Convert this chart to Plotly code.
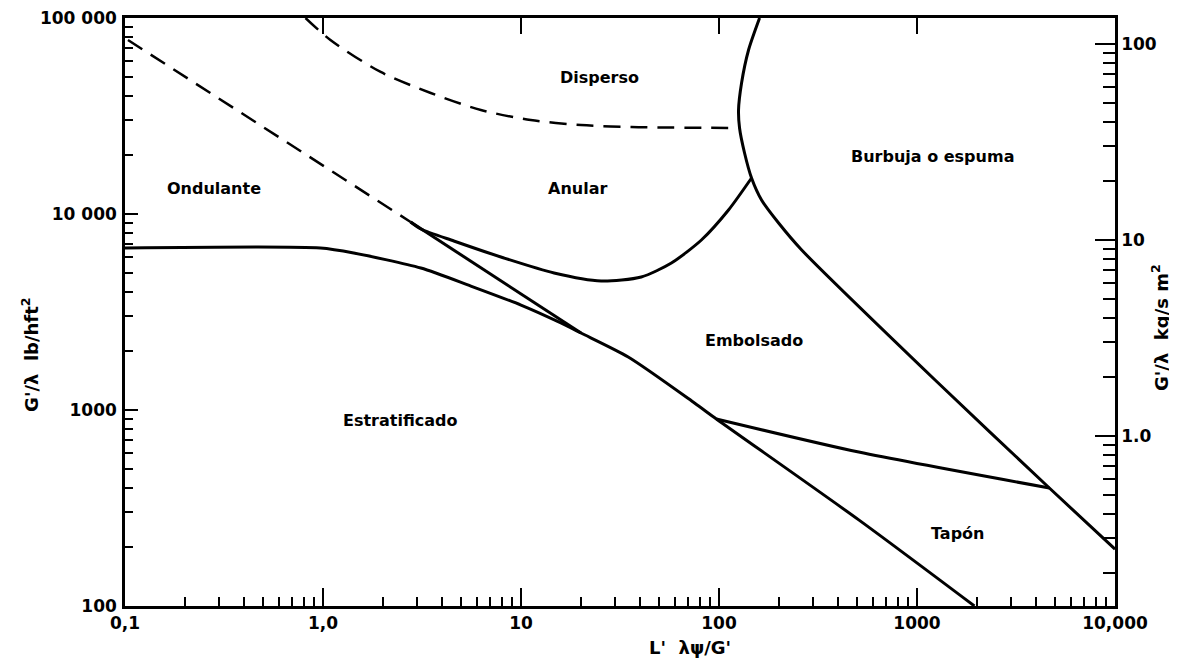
import math
import plotly.graph_objects as go

# ---- boundary curves (x = L' λψ/G', y = G'/λ in lb/h ft²) ----
strat_x = [0.1, 0.97, 1.43, 3.12, 5.58, 10.0, 15.9, 20.1, 34.8, 75.2, 97, 508, 1950]
strat_y = [6700, 6700, 6320, 5300, 4290, 3430, 2780, 2470, 1864, 1086, 900, 275, 100]

wavy_dash_x = [0.1035, 2.77]
wavy_dash_y = [77240, 9104]

wavy_solid_x = [2.77, 20.1]
wavy_solid_y = [9104, 2470]

annular_x = [2.77, 3.12, 4.58, 8.20, 14.69, 25.4, 40.5, 57.5, 81.5, 111.7, 146]
annular_y = [9104, 8385, 7282, 5964, 5000, 4550, 4771, 5623, 7367, 10482, 15265]

bubble_x = [160.3, 141, 130, 125.5, 127, 134.6, 146, 164, 200, 261.6, 1234, 4661, 10000]
bubble_y = [100000, 68680, 46600, 33930, 27470, 20480, 15265, 11788, 8995, 6551, 1422, 400, 195]

slug_plug_x = [97, 508, 4661]
slug_plug_y = [900, 610, 400]

dispersed_x = [0.816, 1.09, 1.955, 3.50, 6.27, 11.2, 20.1, 36.1, 125.5]
dispersed_y = [100000, 77240, 53040, 41430, 33930, 30170, 28440, 27790, 27470]

# ---- region labels ----
label_text = ["Disperso", "Ondulante", "Anular", "Burbuja o espuma",
              "Embolsado", "Estratificado", "Tapón"]
label_x = [24.8, 0.2825, 19.4, 1191, 149.5, 2.47, 1594]
label_y = [49430, 13570, 13570, 19540, 2275, 879, 235.6]

# ---- axes ticks ----
x_tickvals = [0.1, 1, 10, 100, 1000, 10000]
x_ticktext = ["0,1", "1,0", "10", "100", "1000", "10,000"]
y_tickvals = [100, 1000, 10000, 100000]
y_ticktext = ["100", "1000", "10 000", "100 000"]
y2_tickvals = [1, 10, 100]
y2_ticktext = ["1.0", "10", "100"]
CONV = 737.3  # lb/h ft² per kg/s m²

x_minor = [m * d for d in [0.1, 1, 10, 100, 1000] for m in range(2, 10)]
y_minor = [m * d for d in [100, 1000, 10000] for m in range(2, 10)]
y2_minor = [m * d for d in [0.1, 1, 10, 100] for m in range(2, 10)]

XR = [math.log10(0.1), math.log10(10000)]
YR = [math.log10(100), math.log10(100000)]
Y2R = [math.log10(100 / CONV), math.log10(100000 / CONV)]

fig = go.Figure()
solid = dict(color="black", width=3)
solid_s = dict(color="black", width=3, shape="spline", smoothing=0.7)
dashed = dict(color="black", width=2.5, dash="17px,10px")
dashed_s = dict(color="black", width=2.5, dash="17px,10px", shape="spline", smoothing=0.8)

fig.add_trace(go.Scatter(x=strat_x, y=strat_y, mode="lines", line=solid_s))
fig.add_trace(go.Scatter(x=wavy_dash_x, y=wavy_dash_y, mode="lines", line=dashed))
fig.add_trace(go.Scatter(x=wavy_solid_x, y=wavy_solid_y, mode="lines", line=solid))
fig.add_trace(go.Scatter(x=annular_x, y=annular_y, mode="lines", line=solid_s))
fig.add_trace(go.Scatter(x=bubble_x, y=bubble_y, mode="lines", line=solid_s))
fig.add_trace(go.Scatter(x=slug_plug_x, y=slug_plug_y, mode="lines", line=solid_s))
fig.add_trace(go.Scatter(x=dispersed_x, y=dispersed_y, mode="lines", line=dashed_s))

# invisible traces to activate secondary axes
fig.add_trace(go.Scatter(x=[1], y=[1000], xaxis="x2", yaxis="y", mode="markers",
                         marker=dict(opacity=0), hoverinfo="skip"))
fig.add_trace(go.Scatter(x=[1], y=[10], xaxis="x", yaxis="y2", mode="markers",
                         marker=dict(opacity=0), hoverinfo="skip"))

tickfont = dict(family="DejaVu Sans", size=17, color="black", weight="bold")
labfont = dict(family="DejaVu Sans", size=16, color="black", weight="bold")

for t, x, y in zip(label_text, label_x, label_y):
    fig.add_annotation(x=math.log10(x), y=math.log10(y), text=t, showarrow=False,
                       xanchor="center", yanchor="middle", font=labfont)

fig.add_annotation(xref="paper", yref="paper", x=0.571, y=-0.0714, text="L'  λψ/G'",
                   showarrow=False, xanchor="center", yanchor="middle",
                   font=dict(family="DejaVu Sans", size=18, color="black", weight="bold"))
fig.add_annotation(xref="paper", yref="paper", x=-0.096, y=0.427, text="G'/λ  lb/hft<sup>2</sup>",
                   textangle=-90, showarrow=False, xanchor="center", yanchor="middle",
                   font=dict(family="DejaVu Sans", size=18, color="black", weight="bold"))
fig.add_annotation(xref="paper", yref="paper", x=1.0455, y=0.473, text="G'/λ  kg/s m<sup>2</sup>",
                   textangle=-90, showarrow=False, xanchor="center", yanchor="middle",
                   font=dict(family="DejaVu Sans", size=18, color="black", weight="bold"))

fig.update_layout(
    width=1169, height=660,
    margin=dict(l=117, r=62, t=10, b=62, autoexpand=False),
    paper_bgcolor="white", plot_bgcolor="white",
    showlegend=False,
    xaxis=dict(type="log", range=XR, showgrid=False, zeroline=False, automargin=False,
               showline=True, linecolor="black", linewidth=2.5,
               tickmode="array", tickvals=x_tickvals, ticktext=x_ticktext,
               ticks="inside", ticklen=18, tickwidth=1.5, tickcolor="black",
               tickfont=tickfont, ticklabeloverflow="allow",
               minor=dict(tickmode="array", tickvals=x_minor, ticks="inside",
                          ticklen=9, tickwidth=1.5, tickcolor="black", showgrid=False)),
    xaxis2=dict(type="log", range=XR, overlaying="x", side="top", showgrid=False,
                zeroline=False, automargin=False, showline=True, linecolor="black", linewidth=2.5,
                tickmode="array", tickvals=x_tickvals, ticks="inside", ticklen=16,
                tickwidth=1.5, tickcolor="black", showticklabels=False),
    yaxis=dict(type="log", range=YR, showgrid=False, zeroline=False, automargin=False,
               showline=True, linecolor="black", linewidth=2.5,
               tickmode="array", tickvals=y_tickvals, ticktext=y_ticktext,
               ticks="inside", ticklen=13, tickwidth=1.5, tickcolor="black",
               tickfont=tickfont, ticklabelstandoff=2, ticklabeloverflow="allow",
               minor=dict(tickmode="array", tickvals=y_minor, ticks="inside",
                          ticklen=8, tickwidth=1.5, tickcolor="black", showgrid=False)),
    yaxis2=dict(type="log", range=Y2R, overlaying="y", side="right", showgrid=False,
                zeroline=False, automargin=False, showline=True, linecolor="black", linewidth=2.5,
                tickmode="array", tickvals=y2_tickvals, ticktext=y2_ticktext,
                ticks="inside", ticklen=20, tickwidth=1.5, tickcolor="black",
                tickfont=tickfont, ticklabeloverflow="allow",
                minor=dict(tickmode="array", tickvals=y2_minor, ticks="inside",
                           ticklen=12, tickwidth=1.5, tickcolor="black", showgrid=False)),
)

fig.write_html("out.html")
